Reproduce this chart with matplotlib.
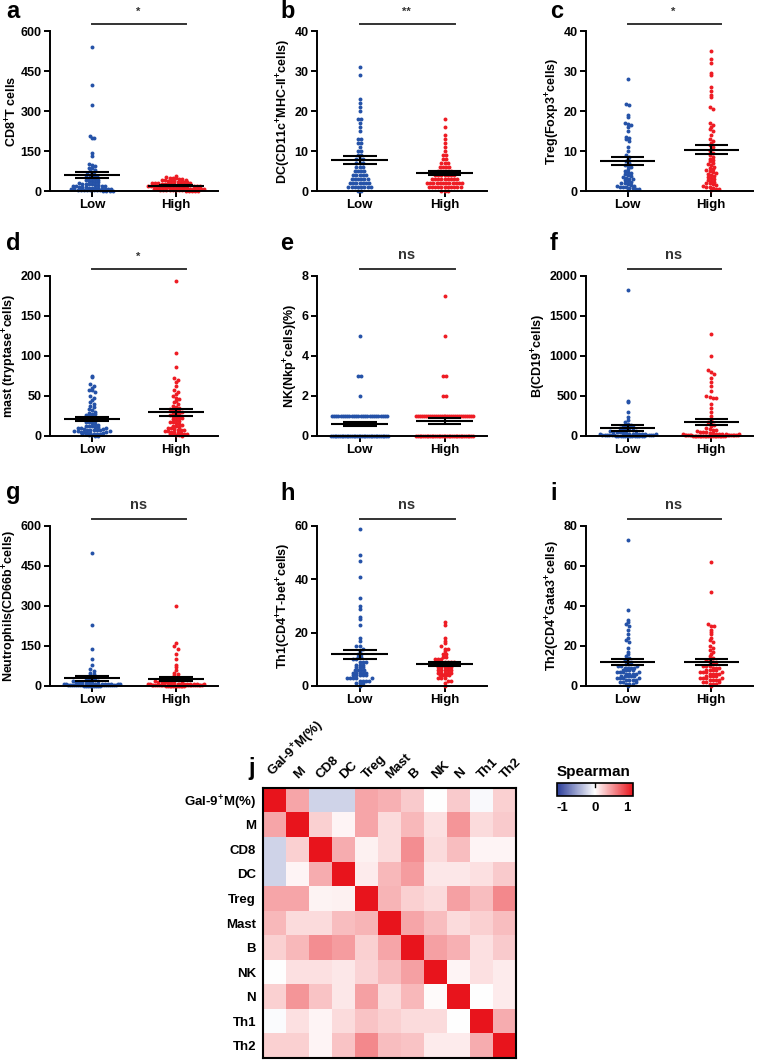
import numpy as np
import matplotlib.pyplot as plt
from matplotlib.colors import LinearSegmentedColormap

plt.rcParams['font.family'] = ['Liberation Sans', 'DejaVu Sans']
plt.rcParams['font.weight'] = 'bold'
plt.rcParams['mathtext.fontset'] = 'custom'
plt.rcParams['mathtext.bf'] = 'Liberation Sans:bold'
plt.rcParams['mathtext.rm'] = 'Liberation Sans:bold'
plt.rcParams['mathtext.default'] = 'bf'
plt.rcParams['axes.unicode_minus'] = False

BLUE = '#2552a8'
RED = '#ee1c24'

groups = ['Low', 'High']

# ---- panel data ----
a_low = [540, 397, 322, 205, 200, 197, 142, 130, 100, 96, 92, 88, 85, 80, 75, 70, 65, 60, 58, 55,
         52, 50, 48, 45, 42, 40, 38, 36, 34, 32, 30, 28, 27, 26, 25, 24, 22, 20, 19, 18, 17, 16,
         15, 14, 13, 12, 11, 10, 9, 8, 8, 7, 6, 6, 5, 5, 4, 4, 3, 3, 2, 2, 1, 1, 0, 0]
a_high = [55, 52, 50, 48, 47, 45, 44, 42, 40, 40, 38, 37, 36, 35, 34, 33, 32, 31, 30, 30, 29, 28,
          27, 26, 25, 25, 24, 23, 22, 22, 21, 20, 20, 19, 18, 18, 17, 16, 16, 15, 15, 14, 13, 13,
          12, 12, 11, 10, 10, 9, 9, 8, 8, 7, 7, 6, 6, 5, 5, 4, 4, 3, 3, 2, 2, 1, 1, 0, 0, 0]

b_low = [31, 29, 23, 22, 21, 20, 18, 18, 17, 16, 15, 13, 13, 12, 12, 11, 10, 10, 9, 9,
         8, 8, 8, 7, 7, 7, 6, 6, 6, 5, 5, 5, 5, 4, 4, 4, 4, 4, 3, 3, 3, 3, 3, 3,
         2, 2, 2, 2, 2, 2, 2, 1, 1, 1, 1, 1, 1, 1, 1, 0, 0]
b_high = [18, 16, 14, 13, 12, 11, 10, 9, 9, 8, 8, 7, 7, 7, 6, 6, 6, 6, 5, 5, 5, 5, 5,
          4, 4, 4, 4, 4, 4, 4, 3, 3, 3, 3, 3, 3, 3, 3, 3, 2, 2, 2, 2, 2, 2, 2, 2, 2, 2, 2, 2,
          1, 1, 1, 1, 1, 1, 1, 1, 1, 1, 1, 0, 0, 0]

c_low = [28, 21.8, 21.5, 19, 18.5, 17, 16.8, 16.5, 16, 15, 13.5, 13.3, 13, 12.5, 11, 10, 9, 8.5,
         8, 7.5, 7, 6.5, 6.2, 6, 5.5, 5, 4.8, 4.5, 4.2, 4, 3.8, 3.5, 3.2, 3, 3, 2.8, 2.5, 2.2,
         2, 2, 1.8, 1.5, 1.3, 1.2, 1, 1, 1, 0.8, 0.7, 0.5, 0.5, 0.3]
c_high = [35, 33, 32, 29.5, 29, 26, 25, 24, 23.5, 21, 20.5, 17, 16.5, 16, 15.5, 15, 14, 13, 12.5,
          12, 11.5, 11, 10.5, 10, 9.5, 9, 8.5, 8, 7.8, 7.5, 7, 6.8, 6.5, 6, 5.8, 5.5, 5.2, 5,
          4.8, 4.5, 4.2, 4, 3.8, 3.5, 3.2, 3, 2.8, 2.5, 2.2, 2, 2, 1.8, 1.5, 1.2, 1, 1, 0.8,
          0.5, 0.5, 0.3]

d_low = [75, 74, 65, 62, 60, 58, 57, 55, 50, 48, 45, 42, 40, 38, 36, 34, 32, 30, 29, 28, 27, 26,
         25, 24, 23, 22, 21, 20, 19, 18, 17, 16, 15, 14, 13, 12, 12, 11, 10, 10, 9, 8, 8, 7, 6,
         6, 5, 5, 4, 4, 3, 3, 2, 2, 1, 1, 0, 0, 2, 3, 4, 5, 6, 7, 8, 9, 10, 11]
d_high = [194, 104, 86, 72, 70, 68, 62, 58, 55, 52, 50, 48, 46, 44, 42, 40, 38, 36, 35, 34, 33,
          32, 31, 30, 29, 28, 27, 26, 25, 24, 23, 22, 21, 20, 19, 18, 17, 16, 15, 14, 13, 12,
          11, 10, 10, 9, 8, 8, 7, 6, 6, 5, 5, 4, 4, 3, 3, 2, 2, 1, 1, 0]

e_low = [5, 3, 3, 2] + [1] * 26 + [0] * 34
e_high = [7, 5, 3, 3, 2, 2] + [1] * 30 + [0] * 34

f_low = [1820, 440, 420, 300, 240, 200, 170, 150, 140, 130, 120, 115, 110, 100, 90, 85, 80, 70,
         65, 60, 55, 50, 45, 40, 35, 30, 28, 25, 22, 20, 18, 15, 12, 10, 10, 8, 6, 5, 4, 3, 2,
         1, 0, 0, 0, 1, 2, 3, 5, 8, 10, 12, 15, 20, 25, 30]
f_high = [1280, 1000, 820, 800, 780, 720, 670, 620, 560, 500, 490, 480, 470, 400, 350, 300, 250,
          200, 180, 160, 140, 120, 100, 90, 80, 70, 60, 55, 50, 45, 40, 35, 30, 28, 25, 22, 20,
          18, 15, 12, 10, 8, 6, 5, 4, 3, 2, 1, 0, 0, 0, 0, 1, 1, 2, 2, 3, 3, 4, 5, 5, 6, 7, 8,
          9, 10, 12, 14, 16, 18, 20]

g_low = [500, 230, 140, 100, 80, 65, 55, 50, 45, 40, 35, 30, 28, 25, 22, 20, 18, 16, 15, 14, 12,
         11, 10, 9, 8, 8, 7, 6, 6, 5, 5, 4, 4, 3, 3, 2, 2, 1, 1, 0, 0, 0, 0, 0, 1, 1, 2, 2, 3,
         3, 4, 4, 5, 5, 6, 6, 7, 8]
g_high = [300, 160, 150, 140, 120, 100, 80, 70, 60, 50, 45, 40, 35, 30, 28, 25, 22, 20, 18, 16,
          15, 14, 12, 11, 10, 9, 8, 8, 7, 6, 6, 5, 5, 4, 4, 3, 3, 2, 2, 1, 1, 0, 0, 0, 0, 0, 0,
          1, 1, 1, 2, 2, 2, 3, 3, 3, 4, 4, 5, 5, 6, 7, 8, 9]

h_low = [59, 49, 47, 41, 33, 30, 29, 26, 25, 23, 18, 17, 15, 15, 14, 13, 12, 12, 11, 11, 10, 10,
         9, 9, 9, 8, 8, 8, 7, 7, 7, 6, 6, 6, 5, 5, 5, 5, 4, 4, 4, 4, 3, 3, 3, 3, 2, 2, 2, 1, 1,
         1, 0, 2, 3, 4, 5, 6]
h_high = [24, 23, 18, 17, 16, 15, 14, 14, 13, 12, 12, 11, 11, 10, 10, 10, 9, 9, 9, 9, 8, 8, 8, 8,
          8, 7, 7, 7, 7, 7, 6, 6, 6, 6, 6, 5, 5, 5, 5, 5, 4, 4, 4, 4, 3, 3, 3, 2, 2, 1, 0]

i_low = [73, 38, 33, 32, 31, 30, 28, 26, 24, 23, 22, 19, 17, 16, 15, 14, 13, 12, 12, 11, 11, 10,
         10, 9, 9, 9, 8, 8, 8, 7, 7, 7, 6, 6, 6, 5, 5, 5, 5, 4, 4, 4, 3, 3, 3, 2, 2, 1, 1, 0,
         1, 2, 3, 4, 5, 6, 7, 8, 9, 10]
i_high = [62, 47, 31, 30, 30, 28, 27, 26, 24, 23, 22, 20, 19, 18, 17, 16, 15, 14, 13, 13, 12, 12,
          11, 11, 10, 10, 10, 9, 9, 9, 8, 8, 8, 8, 7, 7, 7, 6, 6, 6, 5, 5, 5, 4, 4, 4, 3, 3, 2,
          2, 1, 1, 0, 1, 2, 3, 3, 4, 5, 6, 7]

letters = ['a', 'b', 'c', 'd', 'e', 'f', 'g', 'h', 'i']
ylabels = ['CD8$^{+}$T cells', 'DC(CD11c$^{+}$MHC-II$^{+}$cells)', 'Treg(Foxp3$^{+}$cells)',
           'mast (tryptase$^{+}$cells)', 'NK(Nkp$^{+}$cells)(%)', 'B(CD19$^{+}$cells)',
           'Neutrophils(CD66b$^{+}$cells)', 'Th1(CD4$^{+}$T-bet$^{+}$cells)',
           'Th2(CD4$^{+}$Gata3$^{+}$cells)']
ymaxes = [600, 40, 40, 200, 8, 2000, 600, 60, 80]
ysteps = [150, 10, 10, 50, 2, 500, 150, 20, 20]
signif = ['*', '**', '*', '*', 'ns', 'ns', 'ns', 'ns', 'ns']
panel_data = [(a_low, a_high), (b_low, b_high), (c_low, c_high), (d_low, d_high), (e_low, e_high),
              (f_low, f_high), (g_low, g_high), (h_low, h_high), (i_low, i_high)]

# ---- heatmap data ----
hm_labels = ['Gal-9$^{+}$M(%)', 'M', 'CD8', 'DC', 'Treg', 'Mast', 'B', 'NK', 'N', 'Th1', 'Th2']
rho = np.array([
    [1.00, 0.38, -0.22, -0.22, 0.38, 0.33, 0.22, 0.00, 0.22, -0.03, 0.20],
    [0.38, 1.00, 0.20, 0.04, 0.38, 0.15, 0.30, 0.13, 0.45, 0.15, 0.22],
    [-0.22, 0.20, 1.00, 0.35, 0.06, 0.15, 0.48, 0.15, 0.28, 0.04, 0.04],
    [-0.22, 0.04, 0.35, 1.00, 0.08, 0.30, 0.42, 0.10, 0.10, 0.13, 0.22],
    [0.38, 0.38, 0.05, 0.06, 1.00, 0.32, 0.20, 0.15, 0.40, 0.28, 0.50],
    [0.30, 0.15, 0.15, 0.28, 0.32, 1.00, 0.38, 0.28, 0.15, 0.20, 0.28],
    [0.20, 0.30, 0.48, 0.42, 0.20, 0.38, 1.00, 0.40, 0.33, 0.13, 0.22],
    [0.00, 0.13, 0.13, 0.10, 0.18, 0.28, 0.40, 1.00, 0.04, 0.13, 0.08],
    [0.20, 0.45, 0.25, 0.10, 0.40, 0.15, 0.30, 0.02, 1.00, 0.00, 0.08],
    [-0.02, 0.13, 0.04, 0.15, 0.25, 0.20, 0.15, 0.15, 0.00, 1.00, 0.35],
    [0.20, 0.20, 0.04, 0.25, 0.50, 0.28, 0.25, 0.08, 0.08, 0.35, 1.00],
])

W, H = 757, 1063
fig = plt.figure(figsize=(W / 100, H / 100), dpi=100)


def add_ax(left, top, right, bottom):
    return fig.add_axes([left / W, 1 - bottom / H, (right - left) / W, (bottom - top) / H])


def swarm(vals, ymax, h_px, w_px, step=3.2, dx=3.2, maxw=58.0):
    # spread points sharing a pixel row sideways, beeswarm style
    vals = np.asarray(vals, float)
    rows = np.round(vals / ymax * h_px / step).astype(int)
    off = np.zeros(len(vals))
    for r in np.unique(rows):
        idx = np.where(rows == r)[0]
        k = len(idx)
        d = min(dx, maxw / k)
        off[idx] = (np.arange(k) - (k - 1) / 2) * d
    return off / w_px * 2.0


# axes boxes in pixels (left, top, right, bottom)
cols = [(50, 218), (317, 487), (586, 753)]
rows_px = [(31, 191), (276, 436), (526, 686)]
letter_x = [6, 280, 550]
letter_y = [12, 243, 493]

for n in range(9):
    r, c = divmod(n, 3)
    l, rgt = cols[c]
    t, b = rows_px[r]
    ax = add_ax(l, t, rgt, b)
    wpx, hpx = rgt - l, b - t
    ymax = ymaxes[n]
    for g, (vals, col) in enumerate(zip(panel_data[n], [BLUE, RED])):
        vals = np.asarray(vals, float)
        x = g + swarm(vals, ymax, hpx, wpx)
        ax.scatter(x, vals, s=8, color=col, lw=0, zorder=2, clip_on=False)
        m = vals.mean()
        se = vals.std(ddof=1) / np.sqrt(len(vals))
        ax.hlines(m, g - 0.33, g + 0.33, color='black', lw=1.5, zorder=3)
        ax.vlines(g, m - se, m + se, color='black', lw=1.5, zorder=3)
        ax.hlines([m - se, m + se], g - 0.2, g + 0.2, color='black', lw=1.5, zorder=3)
    ax.set_xlim(-0.5, 1.5)
    ax.set_ylim(0, ymax)
    ax.set_yticks(np.arange(0, ymax + 0.1, ysteps[n]))
    ax.set_xticks([0, 1])
    ax.set_xticklabels(groups)
    for s in ['top', 'right']:
        ax.spines[s].set_visible(False)
    for s in ['left', 'bottom']:
        ax.spines[s].set_linewidth(1.4)
    ax.tick_params(width=1.4, length=4, labelsize=9, pad=2)
    ax.tick_params(axis='x', labelsize=9.5)
    ax.set_ylabel(ylabels[n], fontsize=9, fontweight='bold', labelpad=1)
    # significance bar
    ax.plot([0, 1.12], [1.045, 1.045], color='#333333', lw=1.4,
            transform=ax.get_xaxis_transform(), clip_on=False)
    sy = 1.13 if signif[n] == 'ns' else 1.12
    ax.text(0.55, sy, signif[n], transform=ax.get_xaxis_transform(), ha='center', va='center',
            fontsize=10.5 if signif[n] == 'ns' else 8, fontweight='bold', color='#333333')
    fig.text(letter_x[c] / W, 1 - letter_y[r] / H, letters[n],
             fontsize=17, fontweight='bold', va='center')

# ---- heatmap j ----
cmap = LinearSegmentedColormap.from_list('spear', ['#2b3d99', '#ffffff', '#e8141c'])
hx = add_ax(263, 788, 516, 1058)
hx.imshow(rho, cmap=cmap, vmin=-1, vmax=1, aspect='auto', interpolation='nearest')
hx.xaxis.tick_top()
hx.set_xticks(np.arange(len(hm_labels)) + 0.1)
hx.set_xticklabels(hm_labels, rotation=45, ha='left', va='bottom', rotation_mode='anchor',
                   fontsize=9.5)
hx.set_yticks(range(len(hm_labels)))
hx.set_yticklabels(hm_labels, fontsize=9.5)
hx.tick_params(length=0, pad=5)
for s in hx.spines.values():
    s.set_linewidth(1.5)
fig.text(248 / W, 1 - 768 / H, 'j', fontsize=17, fontweight='bold', va='center')

cx = add_ax(557, 783, 633, 796)
cb = fig.colorbar(plt.cm.ScalarMappable(cmap=cmap, norm=plt.Normalize(-1, 1)), cax=cx,
                  orientation='horizontal')
cb.set_ticks([-0.85, 0, 0.85])
cb.set_ticklabels(['-1', '0', '1'])
cb.ax.tick_params(length=0, labelsize=9.5, pad=4)
cb.outline.set_linewidth(1.2)
cx.axvline(0, 0.7, 1, color='black', lw=1)
fig.text(557 / W, 1 - 772 / H, 'Spearman', fontsize=11, fontweight='bold', va='center')

fig.savefig('out.png', dpi=100)
